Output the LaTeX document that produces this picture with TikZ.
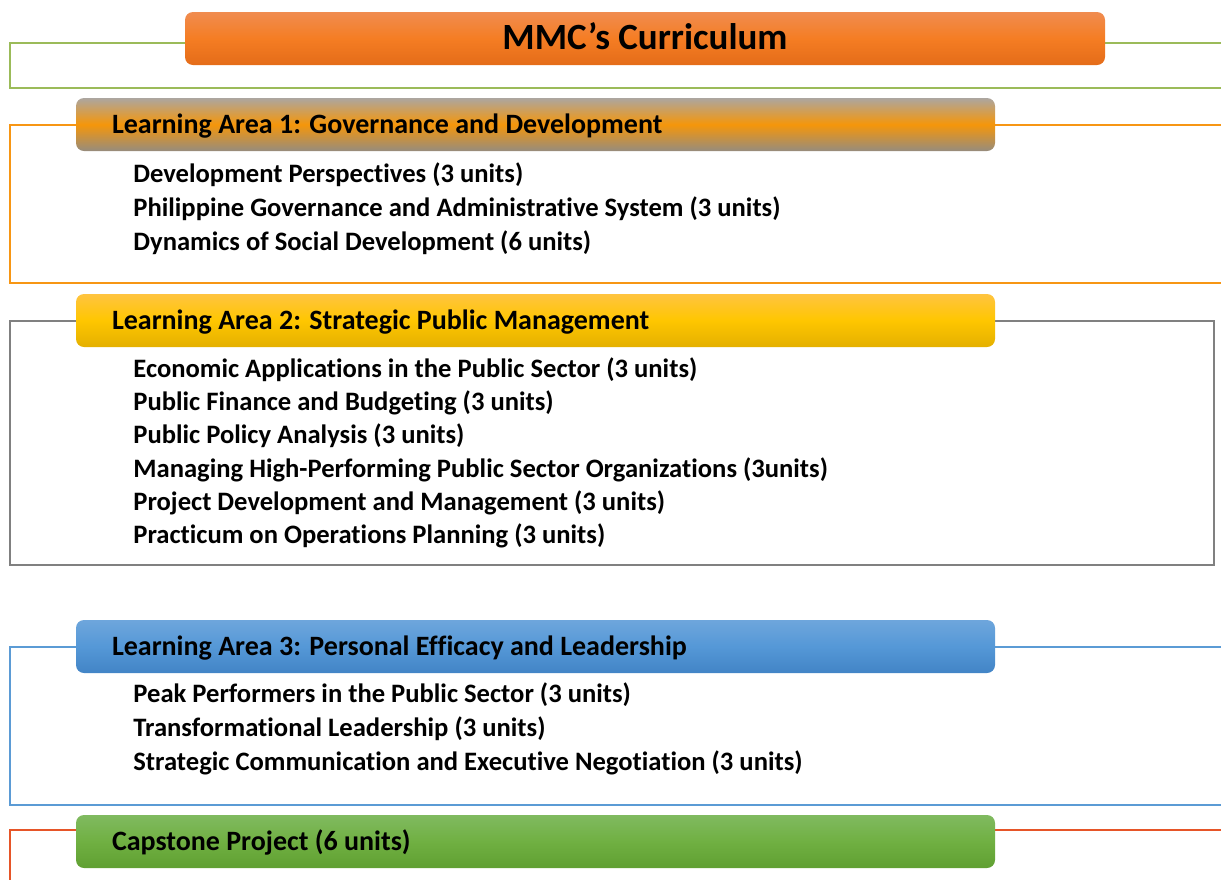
\documentclass[tikz,border=0pt]{standalone}
\usepackage{fontspec}
\setmainfont{Carlito}[Ligatures=NoCommon]

% frame colours
\definecolor{mmcgreen}{RGB}{155,187,89}
\definecolor{mmcorange}{RGB}{247,150,20}
\definecolor{mmcgray}{RGB}{128,128,128}
\definecolor{mmcblue}{RGB}{91,155,213}
\definecolor{mmcred}{RGB}{230,85,40}

% header text, flush left in the box
\newcommand{\areatext}[1]{\makebox[423.5pt][l]{#1}}

\begin{document}
\begin{tikzpicture}[
    x=0.5pt, y=-0.5pt,
    font=\fontsize{13.3}{16}\selectfont\bfseries,
    frame/.style={
        line width=1pt
    },
    title/.style={
        rounded corners=4pt,
        minimum width=460pt,
        minimum height=26.5pt,
        inner sep=0pt,
        text height=15.3pt,
        text depth=4.5pt,
        font=\fontsize{18.5}{22}\selectfont\bfseries,
        top color={rgb,255:red,240;green,140;blue,80},
        bottom color={rgb,255:red,228;green,108;blue,25},
        middle color={rgb,255:red,245;green,125;blue,35}
    },
    area/.style={
        rounded corners=4pt,
        minimum width=459.5pt,
        minimum height=26.5pt,
        inner xsep=18pt,
        inner ysep=0pt,
        text height=12.5pt,
        text depth=3.5pt,
        font=\fontsize{14}{17}\selectfont\bfseries
    },
    item/.style={
        anchor=base west,
        inner sep=0pt
    }
]
\useasboundingbox (0,0) rectangle (1221,879);
\clip (0,0) rectangle (1221,879);

% =========================================================
% Frames (drawn first, the headers sit on their top edges)
% =========================================================
\draw[frame, mmcgreen]  (1230,43) -| (10,88) -- (1230,88);
\draw[frame, mmcorange] (1230,124.5) -| (10,283) -- (1230,283);
\draw[frame, mmcgray]   (10,320.5) rectangle (1214,564.5);
\draw[frame, mmcblue]   (1230,646.5) -| (10,805) -- (1230,805);
\draw[frame, mmcred]    (1230,830) -| (10,890);

% =========================================================
% Title
% =========================================================
\node[title] (mmc) at (645,38.5) {MMC’s Curriculum};

% =========================================================
% Learning Area 1
% =========================================================
\node[area,
    top color={rgb,255:red,172;green,166;blue,160},
    bottom color={rgb,255:red,150;green,140;blue,125},
    middle color={rgb,255:red,245;green,150;blue,10}]
    (ga) at (535.5,124.5) {\areatext{Learning Area 1: Governance and Development}};

\node[item] (ga1) at (133,182) {Development Perspectives (3 units)};
\node[item] (ga2) at (133,216) {Philippine Governance and Administrative System (3 units)};
\node[item] (ga3) at (133,250) {Dynamics of Social Development (6 units)};

% =========================================================
% Learning Area 2
% =========================================================
\node[area,
    top color={rgb,255:red,255;green,196;blue,64},
    bottom color={rgb,255:red,228;green,176;blue,0},
    middle color={rgb,255:red,255;green,198;blue,0}]
    (sm) at (535.5,320.5) {\areatext{Learning Area 2: Strategic Public Management}};

\node[item] (sm1) at (133,377.5) {Economic Applications in the Public Sector (3 units)};
\node[item] (sm2) at (133,410.7) {Public Finance and Budgeting (3 units)};
\node[item] (sm3) at (133,443.9) {Public Policy Analysis (3 units)};
\node[item] (sm4) at (133,477.1) {Managing High-Performing Public Sector Organizations (3units)};
\node[item] (sm5) at (133,510.3) {Project Development and Management (3 units)};
\node[item] (sm6) at (133,543.5) {Practicum on Operations Planning (3 units)};

% =========================================================
% Learning Area 3
% =========================================================
\node[area,
    top color={rgb,255:red,110;green,166;blue,220},
    bottom color={rgb,255:red,66;green,132;blue,198},
    middle color={rgb,255:red,85;green,152;blue,215}]
    (pe) at (535.5,646.5) {\areatext{Learning Area 3: Personal Efficacy and Leadership}};

\node[item] (pe1) at (133,702.5) {Peak Performers in the Public Sector (3 units)};
\node[item] (pe2) at (133,736.5) {Transformational Leadership (3 units)};
\node[item] (pe3) at (133,770.5) {Strategic Communication and Executive Negotiation (3 units)};

% =========================================================
% Capstone
% =========================================================
\node[area,
    top color={rgb,255:red,128;green,186;blue,96},
    bottom color={rgb,255:red,96;green,160;blue,50},
    middle color={rgb,255:red,112;green,176;blue,66}]
    (cap) at (535.5,841.5) {\areatext{Capstone Project (6 units)}};

\end{tikzpicture}
\end{document}
